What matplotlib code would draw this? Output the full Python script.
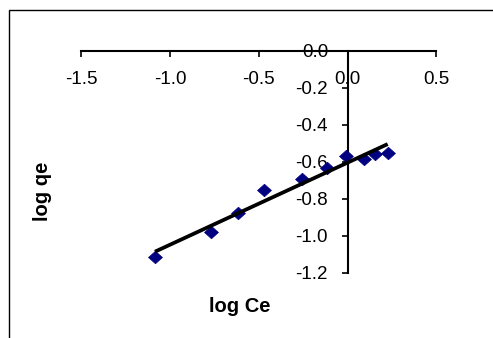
import numpy as np
import matplotlib
matplotlib.use("Agg")
import matplotlib.pyplot as plt
from matplotlib.patches import Rectangle

plt.rcParams['font.family'] = ['Liberation Sans', 'DejaVu Sans']
plt.rcParams['axes.unicode_minus'] = False

log_ce = [-1.085, -0.771, -0.617, -0.469, -0.259, -0.114, -0.011, 0.091, 0.156, 0.226]
log_qe = [-1.113, -0.982, -0.877, -0.753, -0.694, -0.632, -0.567, -0.585, -0.558, -0.555]
x_ticks = [-1.5, -1.0, -0.5, 0.0, 0.5]
y_ticks = [0.0, -0.2, -0.4, -0.6, -0.8, -1.0, -1.2]
x_label = "log Ce"
y_label = "log qe"

W, H = 493, 338
fig = plt.figure(figsize=(W / 100, H / 100), dpi=100)
fig.patch.set_facecolor('white')

ax = fig.add_axes([81.3 / W, 1 - 272.7 / H, 355.0 / W, 222.0 / H])
ax.set_xlim(-1.5, 0.5)
ax.set_ylim(-1.2, 0.0)
ax.patch.set_alpha(0)

for s in ['top', 'right']:
    ax.spines[s].set_visible(False)
ax.spines['left'].set_position(('data', 0))
ax.spines['bottom'].set_position(('data', 0))
for s in ['left', 'bottom']:
    ax.spines[s].set_linewidth(1.5)
    ax.spines[s].set_color('black')

ax.set_xticks(x_ticks)
ax.set_yticks(y_ticks)
ax.set_xticklabels([f"{v:.1f}" for v in x_ticks])
ax.set_yticklabels([f"{v:.1f}" for v in y_ticks])
ax.tick_params(axis='x', direction='out', length=4, width=1.2, pad=10.5, labelsize=13.5)
ax.tick_params(axis='y', direction='out', length=4, width=1.2, pad=10, labelsize=13.5)

diamond = [(-1, 0), (0, 0.9), (1, 0), (0, -0.9), (-1, 0)]
ax.plot(log_ce, log_qe, linestyle='none', marker=diamond, markersize=10,
        color='#000080', markeredgecolor='#000080', markeredgewidth=0.5,
        zorder=3, clip_on=False)

coef = np.polyfit(log_ce, log_qe, 1)
xs = np.array([min(log_ce), max(log_ce)])
ax.plot(xs, np.polyval(coef, xs), color='black', linewidth=2.7, zorder=4, solid_capstyle='butt')

fig.text(240 / W, 1 - 306.7 / H, x_label, ha='center', va='center',
         fontsize=14.5, fontweight='bold')
fig.text(42.3 / W, 1 - 191.7 / H, y_label, ha='center', va='center',
         fontsize=14.5, fontweight='bold', rotation=90)

fig.add_artist(Rectangle((9 / W, -0.1), 2, 1 - 9.5 / H + 0.1, transform=fig.transFigure,
                         fill=False, edgecolor='black', linewidth=1))

fig.savefig("out.png", dpi=100)
